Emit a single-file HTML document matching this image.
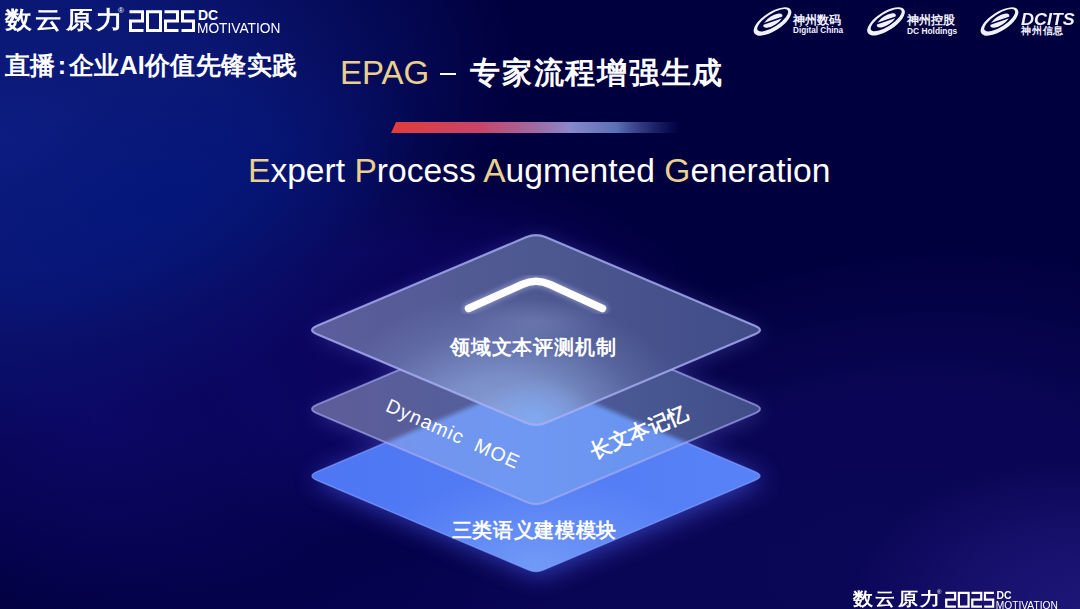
<!DOCTYPE html>
<html><head><meta charset="utf-8">
<style>
html,body{margin:0;padding:0;}
body{width:1080px;height:609px;overflow:hidden;position:relative;background:#02004a;font-family:"Liberation Sans",sans-serif;}
svg{position:absolute;left:0;top:0;}
.t{position:absolute;white-space:nowrap;color:#fff;line-height:1;}
.logo{position:absolute;width:300px;height:40px;transform-origin:0 0;color:#fff;}
.logo span{position:absolute;white-space:nowrap;line-height:1;}
.lc{left:5px;top:8px;font-size:26.5px;font-weight:bold;letter-spacing:3.3px;transform-origin:0 0;transform:scaleY(0.9);}
.lr{left:118px;top:7px;font-size:8px;}
.ldc{left:198px;top:8px;font-size:14px;font-weight:bold;}
.lmo{left:197px;top:20.5px;font-size:14px;transform-origin:0 0;transform:scaleX(0.98);}
.lg{position:absolute;white-space:nowrap;line-height:1;color:#f2f2ff;}
</style></head><body>
<svg width="1080" height="609" viewBox="0 0 1080 609">
 <defs>
  <radialGradient id="bgA" gradientUnits="userSpaceOnUse" cx="0" cy="0" r="1" gradientTransform="translate(540 640) rotate(0) scale(600 220)"><stop offset="0" stop-color="#0a0660" stop-opacity="0.600"/><stop offset="0.5" stop-color="#0a0660" stop-opacity="0.350"/><stop offset="1" stop-color="#0a0660" stop-opacity="0.000"/></radialGradient><radialGradient id="bgG" gradientUnits="userSpaceOnUse" cx="0" cy="0" r="1" gradientTransform="translate(420 360) rotate(0) scale(300 190)"><stop offset="0" stop-color="#0a045c" stop-opacity="1.000"/><stop offset="0.6" stop-color="#0a045c" stop-opacity="0.900"/><stop offset="1" stop-color="#0a045c" stop-opacity="0.000"/></radialGradient><radialGradient id="bgF" gradientUnits="userSpaceOnUse" cx="0" cy="0" r="1" gradientTransform="translate(880 560) rotate(-10) scale(480 300)"><stop offset="0" stop-color="#0b0758" stop-opacity="1.000"/><stop offset="0.55" stop-color="#0b0758" stop-opacity="0.850"/><stop offset="1" stop-color="#0b0758" stop-opacity="0.000"/></radialGradient><radialGradient id="bgB" gradientUnits="userSpaceOnUse" cx="0" cy="0" r="1" gradientTransform="translate(100 420) rotate(0) scale(320 200)"><stop offset="0" stop-color="#0c0866" stop-opacity="1.000"/><stop offset="0.5" stop-color="#0c0866" stop-opacity="0.600"/><stop offset="1" stop-color="#0c0866" stop-opacity="0.000"/></radialGradient><radialGradient id="bgC" gradientUnits="userSpaceOnUse" cx="0" cy="0" r="1" gradientTransform="translate(1080 609) rotate(0) scale(230 150)"><stop offset="0" stop-color="#1e1678" stop-opacity="1.000"/><stop offset="0.5" stop-color="#1e1678" stop-opacity="0.600"/><stop offset="1" stop-color="#1e1678" stop-opacity="0.000"/></radialGradient><radialGradient id="bgD" gradientUnits="userSpaceOnUse" cx="0" cy="0" r="1" gradientTransform="translate(0 140) rotate(-12) scale(520 300)"><stop offset="0" stop-color="#0c1c80" stop-opacity="1.000"/><stop offset="0.45" stop-color="#0c1c80" stop-opacity="0.800"/><stop offset="1" stop-color="#0c1c80" stop-opacity="0.000"/></radialGradient><radialGradient id="bgE" gradientUnits="userSpaceOnUse" cx="0" cy="0" r="1" gradientTransform="translate(170 200) rotate(-20) scale(260 120)"><stop offset="0" stop-color="#04167c" stop-opacity="0.800"/><stop offset="0.5" stop-color="#04167c" stop-opacity="0.500"/><stop offset="1" stop-color="#04167c" stop-opacity="0.000"/></radialGradient><linearGradient id="gB" gradientUnits="userSpaceOnUse" x1="306" y1="0" x2="766" y2="0"><stop offset="0" stop-color="#4e76f4"/><stop offset="1" stop-color="#5882f6"/></linearGradient><radialGradient id="gBg" gradientUnits="userSpaceOnUse" cx="0" cy="0" r="1" gradientTransform="translate(536 565) rotate(0) scale(170 90)"><stop offset="0" stop-color="#82aaf8" stop-opacity="0.650"/><stop offset="0.5" stop-color="#82aaf8" stop-opacity="0.300"/><stop offset="1" stop-color="#82aaf8" stop-opacity="0.000"/></radialGradient><linearGradient id="gM" gradientUnits="userSpaceOnUse" x1="306" y1="0" x2="766" y2="0"><stop offset="0" stop-color="#5e5c98"/><stop offset="0.5" stop-color="#50609c"/><stop offset="1" stop-color="#3f4c88"/></linearGradient><linearGradient id="gMB" gradientUnits="userSpaceOnUse" x1="306" y1="0" x2="766" y2="0"><stop offset="0" stop-color="#7892ec"/><stop offset="0.5" stop-color="#6e98f2"/><stop offset="1" stop-color="#668ef0"/></linearGradient><linearGradient id="gT" gradientUnits="userSpaceOnUse" x1="306" y1="0" x2="766" y2="0"><stop offset="0" stop-color="#5c5e9c"/><stop offset="0.5" stop-color="#4e5890"/><stop offset="1" stop-color="#3f4c88"/></linearGradient><radialGradient id="gTg" gradientUnits="userSpaceOnUse" cx="0" cy="0" r="1" gradientTransform="translate(505 432) rotate(0) scale(190 140)"><stop offset="0" stop-color="#8ca4dc" stop-opacity="1.000"/><stop offset="0.4" stop-color="#8ca4dc" stop-opacity="0.700"/><stop offset="0.75" stop-color="#8ca4dc" stop-opacity="0.200"/><stop offset="1" stop-color="#8ca4dc" stop-opacity="0.000"/></radialGradient><radialGradient id="gTg2" gradientUnits="userSpaceOnUse" cx="0" cy="0" r="1" gradientTransform="translate(536 418) rotate(0) scale(60 40)"><stop offset="0" stop-color="#80acf8" stop-opacity="0.800"/><stop offset="1" stop-color="#80acf8" stop-opacity="0.000"/></radialGradient><radialGradient id="gTc" gradientUnits="userSpaceOnUse" cx="0" cy="0" r="1" gradientTransform="translate(536 322) rotate(0) scale(70 22)"><stop offset="0" stop-color="#9aa4dc" stop-opacity="0.250"/><stop offset="1" stop-color="#9aa4dc" stop-opacity="0.000"/></radialGradient>
  <filter id="blur12" x="-50%" y="-50%" width="200%" height="200%"><feGaussianBlur stdDeviation="12"/></filter>
  <filter id="blur10" x="-50%" y="-50%" width="200%" height="200%"><feGaussianBlur stdDeviation="10"/></filter>
  <filter id="blur2" x="-20%" y="-20%" width="140%" height="140%"><feGaussianBlur stdDeviation="2"/></filter>
  <linearGradient id="bar" x1="0" x2="1" y1="0" y2="0">
   <stop offset="0" stop-color="#e03c3c"/>
   <stop offset="0.3" stop-color="#c84466"/>
   <stop offset="0.5" stop-color="#a06aa0"/>
   <stop offset="0.62" stop-color="#8a88cc"/>
   <stop offset="0.78" stop-color="#6c84c8" stop-opacity="0.85"/>
   <stop offset="0.9" stop-color="#4a5aa8" stop-opacity="0.45"/>
   <stop offset="1" stop-color="#3040a0" stop-opacity="0"/>
  </linearGradient>
  <clipPath id="cM"><path d="M317.1,413.3 Q307.0,409.0 317.1,404.7 L527.7,315.5 Q536.0,312.0 544.3,315.5 L754.9,404.7 Q765.0,409.0 754.9,413.3 L544.3,502.5 Q536.0,506.0 527.7,502.5 Z"/></clipPath>
 </defs>
 <rect width="1080" height="609" fill="#01003f"/>
 <rect width="1080" height="609" fill="url(#bgA)"/>
 <rect width="1080" height="609" fill="url(#bgF)"/>
 <rect width="1080" height="609" fill="url(#bgG)"/>
 <rect width="1080" height="609" fill="url(#bgB)"/>
 <rect width="1080" height="609" fill="url(#bgC)"/>
 <rect width="1080" height="609" fill="url(#bgD)"/>
 <rect width="1080" height="609" fill="url(#bgE)"/>
 <!-- bar -->
 <path d="M396,122 L680,122 L680,133 L391,133 Z" fill="url(#bar)"/>
 <!-- outer glow -->
 <path d="M317.1,480.3 Q307.0,476.0 317.1,471.7 L528.6,382.1 Q536.0,379.0 543.4,382.1 L754.9,471.7 Q765.0,476.0 754.9,480.3 L543.4,569.9 Q536.0,573.0 528.6,569.9 Z" fill="#5060f0" opacity="0.6" filter="url(#blur12)" transform="translate(3 4)"/>
 <path d="M317.1,413.3 Q307.0,409.0 317.1,404.7 L527.7,315.5 Q536.0,312.0 544.3,315.5 L754.9,404.7 Q765.0,409.0 754.9,413.3 L544.3,502.5 Q536.0,506.0 527.7,502.5 Z" fill="#7070e0" opacity="0.35" filter="url(#blur10)" transform="translate(2 3)"/>
 <path d="M317.1,334.3 Q307.0,330.0 317.1,325.7 L525.9,237.3 Q536.0,233.0 546.1,237.3 L754.9,325.7 Q765.0,330.0 754.9,334.3 L546.1,422.7 Q536.0,427.0 525.9,422.7 Z" fill="#7070e0" opacity="0.3" filter="url(#blur10)" transform="translate(2 3)"/>
 <!-- bottom -->
 <path d="M317.1,480.3 Q307.0,476.0 317.1,471.7 L528.6,382.1 Q536.0,379.0 543.4,382.1 L754.9,471.7 Q765.0,476.0 754.9,480.3 L543.4,569.9 Q536.0,573.0 528.6,569.9 Z" fill="url(#gB)"/>
 <path d="M317.1,480.3 Q307.0,476.0 317.1,471.7 L528.6,382.1 Q536.0,379.0 543.4,382.1 L754.9,471.7 Q765.0,476.0 754.9,480.3 L543.4,569.9 Q536.0,573.0 528.6,569.9 Z" fill="url(#gBg)"/>
 <path d="M317.1,480.3 Q307.0,476.0 317.1,471.7 L528.6,382.1 Q536.0,379.0 543.4,382.1 L754.9,471.7 Q765.0,476.0 754.9,480.3 L543.4,569.9 Q536.0,573.0 528.6,569.9 Z" fill="none" stroke="#7e9cff" stroke-width="1.5" opacity="0.7"/>
 <!-- middle -->
 <path d="M317.1,413.3 Q307.0,409.0 317.1,404.7 L527.7,315.5 Q536.0,312.0 544.3,315.5 L754.9,404.7 Q765.0,409.0 754.9,413.3 L544.3,502.5 Q536.0,506.0 527.7,502.5 Z" fill="url(#gM)"/>
 <g clip-path="url(#cM)"><path d="M317.1,480.3 Q307.0,476.0 317.1,471.7 L528.6,382.1 Q536.0,379.0 543.4,382.1 L754.9,471.7 Q765.0,476.0 754.9,480.3 L543.4,569.9 Q536.0,573.0 528.6,569.9 Z" fill="url(#gMB)" filter="url(#blur2)"/></g>
 <path d="M317.1,413.3 Q307.0,409.0 317.1,404.7 L527.7,315.5 Q536.0,312.0 544.3,315.5 L754.9,404.7 Q765.0,409.0 754.9,413.3 L544.3,502.5 Q536.0,506.0 527.7,502.5 Z" fill="none" stroke="#aab0f6" stroke-width="2" opacity="0.65"/>
 <!-- top -->
 <path d="M317.1,334.3 Q307.0,330.0 317.1,325.7 L525.9,237.3 Q536.0,233.0 546.1,237.3 L754.9,325.7 Q765.0,330.0 754.9,334.3 L546.1,422.7 Q536.0,427.0 525.9,422.7 Z" fill="url(#gT)"/>
 <path d="M317.1,334.3 Q307.0,330.0 317.1,325.7 L525.9,237.3 Q536.0,233.0 546.1,237.3 L754.9,325.7 Q765.0,330.0 754.9,334.3 L546.1,422.7 Q536.0,427.0 525.9,422.7 Z" fill="url(#gTg)"/>
 <path d="M317.1,334.3 Q307.0,330.0 317.1,325.7 L525.9,237.3 Q536.0,233.0 546.1,237.3 L754.9,325.7 Q765.0,330.0 754.9,334.3 L546.1,422.7 Q536.0,427.0 525.9,422.7 Z" fill="url(#gTg2)"/>
 <path d="M317.1,334.3 Q307.0,330.0 317.1,325.7 L525.9,237.3 Q536.0,233.0 546.1,237.3 L754.9,325.7 Q765.0,330.0 754.9,334.3 L546.1,422.7 Q536.0,427.0 525.9,422.7 Z" fill="url(#gTc)"/>
 <path d="M317.1,334.3 Q307.0,330.0 317.1,325.7 L525.9,237.3 Q536.0,233.0 546.1,237.3 L754.9,325.7 Q765.0,330.0 754.9,334.3 L546.1,422.7 Q536.0,427.0 525.9,422.7 Z" fill="none" stroke="#aab0f6" stroke-width="2.2" opacity="0.8"/>
 <!-- chevron -->
 <path d="M468.5,308.5 L522,284.5 Q536,278 550,284.5 L602.5,308.5" fill="none" stroke="#c8d0ff" stroke-width="12" stroke-linecap="round" stroke-linejoin="round" opacity="0.35" filter="url(#blur2)"/>
 <path d="M468.5,308.5 L522,284.5 Q536,278 550,284.5 L602.5,308.5" fill="none" stroke="#ffffff" stroke-width="7.5" stroke-linecap="round" stroke-linejoin="round"/>
 <g transform="translate(772.5,21.5) rotate(-33)">
  <path d="M-21.7,0 A21.7,9.3 0 1,1 21.7,0 A21.7,9.3 0 1,1 -21.7,0 Z M-17.2,-0.9 A18,6.4 0 1,0 18.8,-0.9 A18,6.4 0 1,0 -17.2,-0.9 Z" fill="#f2f2ff" fill-rule="evenodd"/>
  <ellipse cx="0.8" cy="-0.5" rx="11" ry="4.6" fill="#f2f2ff"/>
  <path d="M-9,-3 L11,2" stroke="#05034a" stroke-width="1.6" stroke-linecap="round"/>
</g>
 <g transform="translate(886,21.3) rotate(-33)">
  <path d="M-21.7,0 A21.7,9.3 0 1,1 21.7,0 A21.7,9.3 0 1,1 -21.7,0 Z M-17.2,-0.9 A18,6.4 0 1,0 18.8,-0.9 A18,6.4 0 1,0 -17.2,-0.9 Z" fill="#f2f2ff" fill-rule="evenodd"/>
  <ellipse cx="0.8" cy="-0.5" rx="11" ry="4.6" fill="#f2f2ff"/>
  <path d="M-9,-3 L11,2" stroke="#05034a" stroke-width="1.6" stroke-linecap="round"/>
</g>
 <g transform="translate(999.5,21.5) rotate(-33)">
  <path d="M-21.7,0 A21.7,9.3 0 1,1 21.7,0 A21.7,9.3 0 1,1 -21.7,0 Z M-17.2,-0.9 A18,6.4 0 1,0 18.8,-0.9 A18,6.4 0 1,0 -17.2,-0.9 Z" fill="#f2f2ff" fill-rule="evenodd"/>
  <ellipse cx="0.8" cy="-0.5" rx="11" ry="4.6" fill="#f2f2ff"/>
  <path d="M-9,-3 L11,2" stroke="#05034a" stroke-width="1.6" stroke-linecap="round"/>
</g>
</svg>
<div class="logo" style="left:0px;top:0px;transform:scale(1.0);">
<span class="lc">数云原力</span><span class="lr">®</span>
<svg width="70" height="26" style="position:absolute;left:127px;top:8px;" viewBox="0 0 70 26"><g fill="none" stroke="#fff" stroke-width="3" stroke-linejoin="miter">
<path d="M2.5,3.8 H15.5 V13 H3.5 V22.5 H16.5"/>
<path d="M20.5,3.8 H33.5 V22.5 H20.5 Z"/>
<path d="M37.5,3.8 H50.5 V13 H38.5 V22.5 H51.5"/>
<path d="M67.5,3.8 H55.5 V13 H66.5 V22.5 H54.5"/>
</g></svg>
<span class="ldc">DC</span><span class="lmo">MOTIVATION</span></div>
<div class="logo" style="left:848.5px;top:584px;transform:scale(0.745);">
<span class="lc">数云原力</span><span class="lr">®</span>
<svg width="70" height="26" style="position:absolute;left:127px;top:8px;" viewBox="0 0 70 26"><g fill="none" stroke="#fff" stroke-width="3" stroke-linejoin="miter">
<path d="M2.5,3.8 H15.5 V13 H3.5 V22.5 H16.5"/>
<path d="M20.5,3.8 H33.5 V22.5 H20.5 Z"/>
<path d="M37.5,3.8 H50.5 V13 H38.5 V22.5 H51.5"/>
<path d="M67.5,3.8 H55.5 V13 H66.5 V22.5 H54.5"/>
</g></svg>
<span class="ldc">DC</span><span class="lmo">MOTIVATION</span></div>
<div class="lg" style="left:793px;top:14px;font-size:12px;font-weight:bold;">神州数码</div>
<div class="lg" style="left:793px;top:26.5px;font-size:8.2px;font-weight:bold;">Digital China</div>
<div class="lg" style="left:907px;top:14px;font-size:12px;font-weight:bold;">神州控股</div>
<div class="lg" style="left:907px;top:26.5px;font-size:8.4px;font-weight:bold;">DC Holdings</div>
<div class="lg" style="left:1021px;top:12px;font-size:16px;font-weight:bold;font-style:italic;transform-origin:0 0;transform:scaleX(1.12);">DCITS</div>
<div class="lg" style="left:1021px;top:26px;font-size:10px;letter-spacing:0.8px;font-weight:bold;">神州信息</div>
<div class="t" style="left:5px;top:53px;font-size:25px;letter-spacing:0.35px;font-weight:bold;">直播<span style="display:inline-block;width:13px;text-align:center;">:</span>企业AI价值先锋实践</div>
<div class="t" style="left:340px;top:56px;font-size:33px;color:#e9d08e;">EPAG</div>
<div class="t" style="left:440px;top:72.5px;width:16px;height:2.3px;background:#fff;"></div>
<div class="t" style="left:470px;top:58px;font-size:29.5px;letter-spacing:1.75px;font-weight:600;">专家流程增强生成</div>
<div class="t" style="left:248px;top:153.5px;font-size:33.6px;"><span style="color:#e9d08e">E</span>xpert <span style="color:#e9d08e">P</span>rocess <span style="color:#e9d08e">A</span>ugmented <span style="color:#e9d08e">G</span>eneration</div>
<div class="t" style="left:450px;top:336.5px;font-size:20.3px;letter-spacing:0.8px;font-weight:600;">领域文本评测机制</div>
<div class="t" style="left:451.5px;top:520px;font-size:20.3px;letter-spacing:0.7px;font-weight:600;">三类语义建模模块</div>
<div class="t" style="left:391px;top:396px;font-size:19.5px;transform-origin:0 0;transform:rotate(24deg);letter-spacing:1.1px;">Dynamic&nbsp;&nbsp;MOE</div>
<div class="t" style="left:587px;top:443px;font-size:20.5px;font-weight:600;transform-origin:0 0;transform:rotate(-23deg);">长文本记忆</div>
</body></html>
